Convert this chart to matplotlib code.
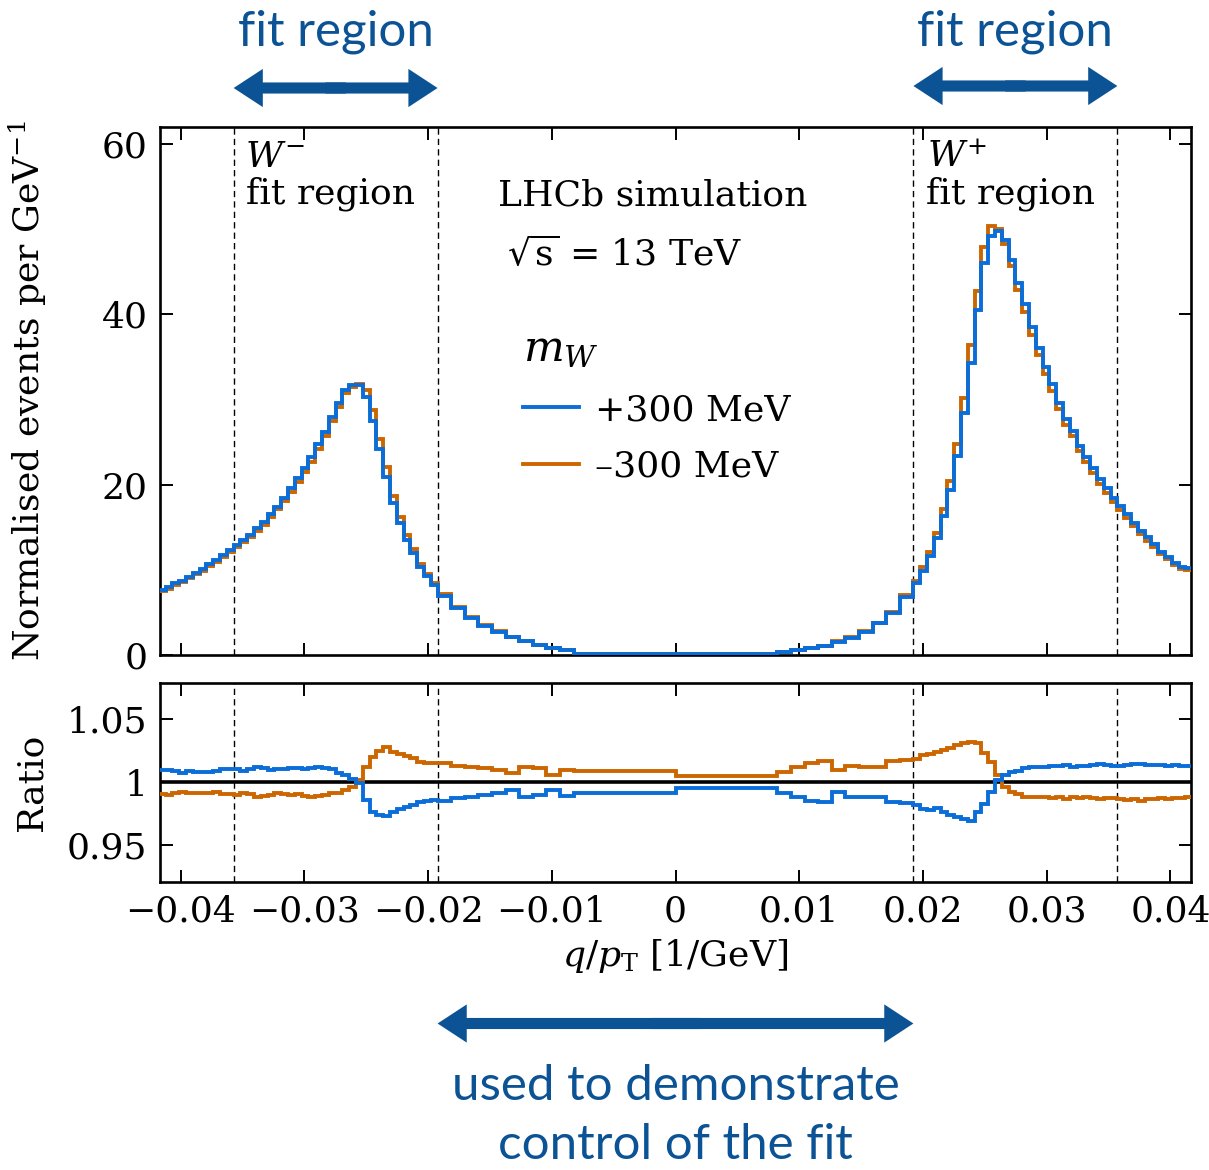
import numpy as np
import matplotlib
matplotlib.use("Agg")
import matplotlib.pyplot as plt
from matplotlib.lines import Line2D
from matplotlib.patches import FancyArrowPatch
from matplotlib.transforms import blended_transform_factory

plt.rcParams["font.family"] = ["DejaVu Serif"]
plt.rcParams["mathtext.fontset"] = "dejavuserif"

# ---------------------------------------------------------------------------
# Binning in q/pT: 30 bins per charge inside the 28 < pT < 52 GeV fit window,
# double-width bins towards q/pT = 0, same width continuing out to pT = 24 GeV
# ---------------------------------------------------------------------------
PT_FIT_LOW = 28.0
PT_FIT_HIGH = 52.0
N_FIT_BINS = 30
N_INNER_BINS = 10
N_OUTER_BINS = 11

w_fit = (1.0 / PT_FIT_LOW - 1.0 / PT_FIT_HIGH) / N_FIT_BINS
inner = 1.0 / PT_FIT_HIGH - 2 * w_fit * np.arange(N_INNER_BINS, -1, -1)
fit = 1.0 / PT_FIT_HIGH + w_fit * np.arange(1, N_FIT_BINS + 1)
outer = 1.0 / PT_FIT_LOW + w_fit * np.arange(1, N_OUTER_BINS + 1)
pos_edges = np.concatenate([[0.0], inner, fit, outer])
edges = np.concatenate([-pos_edges[::-1], pos_edges[1:]])

# Nominal simulated q/pT spectrum [events per GeV^-1], left to right
nominal = np.array([
    # q/pT < -1/28
    7.56, 7.88, 8.34, 8.65, 9.11, 9.58, 9.97, 10.56, 11.05, 11.63, 12.22,
    # W- fit region
    12.79, 13.38, 13.95, 14.70, 15.48, 16.40, 17.24, 18.21, 19.36, 20.52,
    21.70, 22.94, 24.47, 25.93, 27.69, 29.40, 30.93, 31.62, 31.72, 30.76,
    28.17, 24.79, 21.43, 18.24, 15.87, 13.77, 12.23, 10.53, 9.42, 8.34,
    # -1/52 < q/pT < 0
    7.03, 5.55, 4.36, 3.48, 2.76, 2.09, 1.66, 1.18, 0.79, 0.60, 0.12,
    # 0 < q/pT < 1/52
    0.08, 0.35, 0.60, 0.80, 1.08, 1.57, 2.05, 2.77, 3.76, 4.98, 6.89,
    # W+ fit region
    8.56, 10.08, 11.88, 13.99, 16.75, 19.89, 24.07, 29.23, 35.32, 41.47,
    46.87, 49.60, 49.69, 48.45, 45.99, 43.31, 40.76, 38.02, 35.66, 33.44,
    31.38, 29.17, 27.34, 26.02, 24.27, 22.91, 21.62, 20.34, 19.31, 18.17,
    # q/pT > 1/28
    17.27, 16.28, 15.32, 14.41, 13.62, 12.86, 11.97, 11.39, 10.70, 10.23, 10.06,
])

# Ratio to nominal for mW + 300 MeV
ratio_plus = np.array([
    1.0098, 1.0098, 1.0092, 1.0076, 1.0090, 1.0084, 1.0084, 1.0084, 1.0092, 1.0103, 1.0103,
    1.0103, 1.0092, 1.0103, 1.0119, 1.0111, 1.0098, 1.0103, 1.0103, 1.0111, 1.0111,
    1.0103, 1.0116, 1.0124, 1.0111, 1.0103, 1.0076, 1.0058, 1.0024, 0.9992, 0.9860,
    0.9767, 0.9740, 0.9733, 0.9767, 0.9786, 0.9802, 0.9820, 0.9846, 0.9854, 0.9860,
    0.9852, 0.9878, 0.9886, 0.9899, 0.9913, 0.9939, 0.9886, 0.9899, 0.9939, 0.9891, 0.9913,
    0.9952, 0.9913, 0.9886, 0.9854, 0.9846, 0.9921, 0.9881, 0.9886, 0.9881, 0.9841, 0.9835,
    0.9820, 0.9786, 0.9780, 0.9794, 0.9767, 0.9740, 0.9722, 0.9706, 0.9693, 0.9767,
    0.9828, 0.9925, 1.0018, 1.0058, 1.0084, 1.0092, 1.0111, 1.0119, 1.0119, 1.0124,
    1.0129, 1.0129, 1.0137, 1.0124, 1.0129, 1.0129, 1.0137, 1.0143, 1.0137, 1.0129,
    1.0129, 1.0137, 1.0143, 1.0145, 1.0137, 1.0137, 1.0137, 1.0132, 1.0135, 1.0132, 1.0129,
])

# Ratio to nominal for mW - 300 MeV
ratio_minus = np.array([
    0.9907, 0.9899, 0.9913, 0.9925, 0.9913, 0.9917, 0.9913, 0.9917, 0.9925, 0.9907, 0.9907,
    0.9899, 0.9913, 0.9907, 0.9886, 0.9891, 0.9899, 0.9913, 0.9907, 0.9899, 0.9907,
    0.9891, 0.9881, 0.9891, 0.9899, 0.9913, 0.9917, 0.9939, 0.9965, 1.0018, 1.0119,
    1.0203, 1.0251, 1.0278, 1.0243, 1.0225, 1.0209, 1.0190, 1.0164, 1.0156, 1.0151,
    1.0151, 1.0130, 1.0119, 1.0111, 1.0098, 1.0071, 1.0119, 1.0111, 1.0058, 1.0098, 1.0090,
    1.0050, 1.0084, 1.0119, 1.0151, 1.0172, 1.0098, 1.0132, 1.0124, 1.0124, 1.0172, 1.0177,
    1.0183, 1.0217, 1.0225, 1.0243, 1.0256, 1.0270, 1.0296, 1.0314, 1.0322, 1.0310,
    1.0230, 1.0164, 1.0058, 0.9965, 0.9925, 0.9907, 0.9886, 0.9881, 0.9886, 0.9881,
    0.9873, 0.9886, 0.9865, 0.9881, 0.9873, 0.9881, 0.9873, 0.9865, 0.9873, 0.9873,
    0.9865, 0.9860, 0.9865, 0.9854, 0.9865, 0.9865, 0.9873, 0.9865, 0.9873, 0.9873, 0.9881,
])

series_labels = ["+300 MeV", "\u2013300 MeV"]
x_ticks = [-0.04, -0.03, -0.02, -0.01, 0.0, 0.01, 0.02, 0.03, 0.04]
x_tick_labels = ["\u22120.04", "\u22120.03", "\u22120.02", "\u22120.01", "0",
                 "0.01", "0.02", "0.03", "0.04"]
y_ticks = [0, 20, 40, 60]
ratio_ticks = [0.95, 1.0, 1.05]
ratio_tick_labels = ["0.95", "1", "1.05"]
fit_boundaries = [-1 / PT_FIT_LOW, -1 / PT_FIT_HIGH, 1 / PT_FIT_HIGH, 1 / PT_FIT_LOW]

BLUE = "#0a6dd8"
ORANGE = "#cc6600"
NOTE = "#0b5394"
FS = 26
LW = 2.8

fig = plt.figure(figsize=(12.09, 11.70), dpi=100)
W, H = 1209.0, 1170.0
ax = fig.add_axes([160 / W, 1 - 655 / H, 1031 / W, 528 / H])
axr = fig.add_axes([160 / W, 1 - 882 / H, 1031 / W, 199 / H])

xlim = (-1 / 24, 1 / 24)

# ---- main panel ----
ax.stairs(nominal * ratio_minus, edges, color=ORANGE, lw=LW, baseline=None, zorder=3)
ax.stairs(nominal * ratio_plus, edges, color=BLUE, lw=LW, baseline=None, zorder=4)
for xv in fit_boundaries:
    ax.axvline(xv, color="k", lw=1.0, ls=(0, (4.5, 3)), zorder=2)
ax.set_xlim(*xlim)
ax.set_ylim(0, 62)
ax.set_yticks(y_ticks)
ax.set_xticks(x_ticks)
ax.tick_params(labelbottom=False)
ax.set_ylabel(r"Normalised events per GeV$^{\mathrm{-1}}$", fontsize=FS)
ax.yaxis.set_label_coords(-0.108, 0.5)

ax.text(0.0824, 0.924, r"$W^{-}$", transform=ax.transAxes, fontsize=FS, va="baseline")
ax.text(0.0834, 0.856, "fit region", transform=ax.transAxes, fontsize=FS, va="baseline")
ax.text(0.744, 0.924, r"$W^{+}$", transform=ax.transAxes, fontsize=FS, va="baseline")
ax.text(0.743, 0.856, "fit region", transform=ax.transAxes, fontsize=FS, va="baseline")
ax.text(0.328, 0.852, "LHCb simulation", transform=ax.transAxes, fontsize=FS, va="baseline")
ax.text(0.3365, 0.739, r"$\sqrt{\mathrm{s}}$ = 13 TeV", transform=ax.transAxes,
        fontsize=FS, va="baseline")

handles = [Line2D([], [], color=BLUE, lw=LW), Line2D([], [], color=ORANGE, lw=LW)]
leg = ax.legend(handles, series_labels, title=r"$m_W$", loc="upper left",
                bbox_to_anchor=(0.352, 0.618), frameon=False, fontsize=FS,
                title_fontsize=FS + 5, alignment="left", handlelength=1.55,
                handletextpad=0.45, labelspacing=0.62, borderpad=0, borderaxespad=0)

# ---- ratio panel ----
axr.axhline(1.0, color="k", lw=2.6, zorder=2)
axr.stairs(ratio_minus, edges, color=ORANGE, lw=LW, baseline=None, zorder=3)
axr.stairs(ratio_plus, edges, color=BLUE, lw=LW, baseline=None, zorder=4)
for xv in fit_boundaries:
    axr.axvline(xv, color="k", lw=1.0, ls=(0, (4.5, 3)), zorder=1)
axr.set_xlim(*xlim)
axr.set_ylim(0.9209, 1.0788)
axr.set_yticks(ratio_ticks, ratio_tick_labels)
axr.set_xticks(x_ticks, x_tick_labels)
axr.set_ylabel("Ratio", fontsize=FS)
axr.yaxis.set_label_coords(-0.108, 0.5)
axr.set_xlabel(r"$q/p_{\mathrm{T}}$ [1/GeV]", fontsize=FS, labelpad=6)

for a in (ax, axr):
    a.tick_params(direction="in", top=True, right=True, length=9, width=1.4,
                  labelsize=FS, pad=9)
    for s in a.spines.values():
        s.set_linewidth(1.9)

# ---- annotations around the figure ----
tr = blended_transform_factory(ax.transData, fig.transFigure)


def double_arrow(x0, x1, y):
    # two overlapping halves, each starting a little past the centre
    for xs, xe in ((x0 + 0.55 * (x1 - x0), x0), (x0 + 0.45 * (x1 - x0), x1)):
        arr = FancyArrowPatch((xs, y), (xe, y), transform=tr,
                              arrowstyle="simple,head_length=2.1,head_width=2.75,tail_width=0.8",
                              mutation_scale=10, color=NOTE, lw=0,
                              shrinkA=0, shrinkB=0, clip_on=False)
        fig.add_artist(arr)


double_arrow(-1 / PT_FIT_LOW, -1 / PT_FIT_HIGH, 1 - 88 / H)
double_arrow(1 / PT_FIT_HIGH, 1 / PT_FIT_LOW, 1 - 86 / H)
double_arrow(-1 / PT_FIT_HIGH, 1 / PT_FIT_HIGH, 1 - 1023.5 / H)

note_font = dict(family=["Lato", "DejaVu Sans"], fontsize=35.5, color=NOTE,
                 ha="center", va="baseline", transform=tr)
fig.text(-0.5 * (1 / PT_FIT_LOW + 1 / PT_FIT_HIGH), 1 - 45 / H, "fit region", **note_font)
fig.text(0.5 * (1 / PT_FIT_LOW + 1 / PT_FIT_HIGH), 1 - 45 / H, "fit region", **note_font)
fig.text(0.0, 1 - 1100 / H, "used to demonstrate", **note_font)
fig.text(0.0, 1 - 1159 / H, "control of the fit", **note_font)

fig.savefig("out.png", dpi=100)
